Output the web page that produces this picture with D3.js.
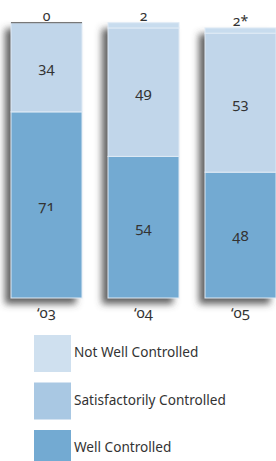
<!DOCTYPE html>
<head>
    <meta charset="utf-8">
    <title>Control status by year</title>
    <style>
        body { margin: 0; background: #fff; }
        text { font-family: "Noto Sans", sans-serif; fill: #333; font-variant-numeric: oldstyle-nums; }
    </style>
</head>
<body>
    <svg width="276" height="461"></svg>

    <script src="https://d3js.org/d3.v7.min.js"></script>
    <script>
        var years = ["‘03", "‘04", "‘05"];
        var wellControlled = [71, 54, 48];
        var satisfactorily = [34, 49, 53];
        var notWell = [0, 2, 2];
        var topLabels = ["0", "2", "2*"];
        var legendNames = ["Not Well Controlled", "Satisfactorily Controlled", "Well Controlled"];

        var svg = d3.select("svg");

        var defs = svg.append("defs");
        var filter = defs.append("filter").attr("id", "shadow")
            .attr("x", "-40%").attr("y", "-10%").attr("width", "160%").attr("height", "130%");
        filter.append("feDropShadow")
            .attr("dx", -6).attr("dy", 6).attr("stdDeviation", 3.5)
            .attr("flood-color", "#444").attr("flood-opacity", 0.85);

        var x = d3.scaleBand().domain(years).range([11, 276]).paddingInner(0.268);
        var y = d3.scaleLinear().domain([0, 105]).range([298, 22.7]);

        var rows = years.map(function (yr, i) {
            return { year: yr, well: wellControlled[i], sat: satisfactorily[i], notWell: notWell[i] };
        });
        var stack = d3.stack().keys(["well", "sat", "notWell"]);
        var series = stack(rows);
        var fills = { well: "#73aad2", sat: "#c1d6ea", notWell: "#c8dcee" };

        // shadow under each full bar
        svg.append("g").selectAll("rect")
            .data(rows).enter().append("rect")
            .attr("x", function (d) { return x(d.year); })
            .attr("y", function (d) { return y(d.well + d.sat + d.notWell); })
            .attr("width", x.bandwidth())
            .attr("height", function (d) { return y(0) - y(d.well + d.sat + d.notWell); })
            .attr("fill", "#fff")
            .attr("filter", "url(#shadow)");

        var layer = svg.append("g").selectAll("g")
            .data(series).enter().append("g")
            .attr("fill", function (s) { return fills[s.key]; });

        layer.selectAll("rect")
            .data(function (s) { return s; })
            .enter().append("rect")
            .attr("x", function (d) { return x(d.data.year); })
            .attr("y", function (d) { return y(d[1]); })
            .attr("width", x.bandwidth())
            .attr("height", function (d) { return y(d[0]) - y(d[1]); })
            .attr("stroke", "#dfeaf5")
            .attr("stroke-width", 1);

        // zero-size segment shows as a gray top edge
        svg.append("g").selectAll("line")
            .data(rows.filter(function (d) { return d.notWell === 0; }))
            .enter().append("line")
            .attr("x1", function (d) { return x(d.year); })
            .attr("x2", function (d) { return x(d.year) + x.bandwidth(); })
            .attr("y1", function (d) { return y(d.well + d.sat); })
            .attr("y2", function (d) { return y(d.well + d.sat); })
            .attr("stroke", "#777").attr("stroke-width", 1.2);

        // value labels inside segments
        var inner = series.slice(0, 2);
        inner.forEach(function (s) {
            svg.append("g").selectAll("text")
                .data(s).enter().append("text")
                .attr("x", function (d) { return x(d.data.year) + x.bandwidth() / 2; })
                .attr("y", function (d) { return (y(d[0]) + y(d[1])) / 2 + 6; })
                .attr("text-anchor", "middle")
                .style("font-size", "15px")
                .text(function (d) { return d[1] - d[0]; });
        });

        // labels above bars
        svg.append("g").selectAll("text")
            .data(rows).enter().append("text")
            .attr("x", function (d) { return x(d.year) + x.bandwidth() / 2; })
            .attr("y", function (d) { return y(d.well + d.sat + d.notWell) - 2; })
            .attr("text-anchor", "middle")
            .style("font-size", "14px")
            .text(function (d, i) { return topLabels[i]; });

        // year labels
        svg.append("g").selectAll("text")
            .data(years).enter().append("text")
            .attr("x", function (d) { return x(d) + x.bandwidth() / 2; })
            .attr("y", 318)
            .attr("text-anchor", "middle")
            .style("font-size", "15px")
            .text(function (d) { return d; });

        // legend
        var legendColor = d3.scaleOrdinal().domain(legendNames).range(["#cfe0ef", "#a9c8e3", "#73aad2"]);
        var ly = d3.scalePoint().domain(legendNames).range([335, 430]);
        var leg = svg.append("g").selectAll("g")
            .data(legendNames).enter().append("g")
            .attr("transform", function (d) { return "translate(34," + ly(d) + ")"; });
        leg.append("rect")
            .attr("width", 37).attr("height", 37)
            .attr("fill", function (d) { return legendColor(d); });
        leg.append("text")
            .attr("x", 40).attr("y", 22)
            .style("font-size", "13.6px")
            .text(function (d) { return d; });
    </script>
</body>
